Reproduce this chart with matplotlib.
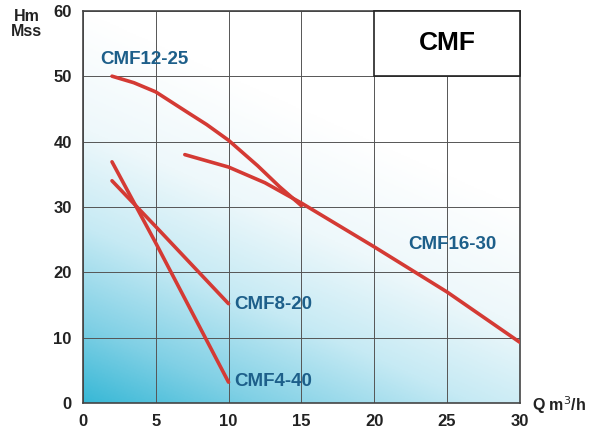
import numpy as np
import matplotlib.pyplot as plt
from matplotlib.colors import LinearSegmentedColormap
from matplotlib.patches import Rectangle

plt.rcParams['font.family'] = ['Liberation Sans', 'DejaVu Sans']

# pump curves, Q [m3/h] vs head [m]
q_12_25 = [2, 3.5, 5, 7.3, 8.5, 10, 12, 13.5, 15]
h_12_25 = [50, 49.0, 47.6, 44.3, 42.6, 40.2, 36.3, 33.1, 30.2]

q_16_30 = [7, 10, 12.5, 15, 20, 25, 30]
h_16_30 = [38, 36.1, 33.7, 30.6, 23.9, 17, 9.3]

q_8_20 = [2, 5, 10]
h_8_20 = [34, 27, 15.2]

q_4_40 = [2, 5, 10]
h_4_40 = [36.9, 24.5, 3.2]

curves = [(q_12_25, h_12_25), (q_16_30, h_16_30), (q_8_20, h_8_20), (q_4_40, h_4_40)]
labels = ["CMF12-25", "CMF16-30", "CMF8-20", "CMF4-40"]
label_pos = [(4.25, 52.6), (25.4, 24.3), (13.1, 15.0), (13.1, 3.3)]

fig = plt.figure(figsize=(5.92, 4.32), dpi=100)
ax = fig.add_axes([0.140, 0.067, 0.738, 0.908])

# background gradient, cyan bottom-left to white top
xx, yy = np.meshgrid(np.linspace(0, 1, 300), np.linspace(0, 1, 300))
t = np.clip(0.5 * xx + 1.0 * yy, 0, 1)
cmap = LinearSegmentedColormap.from_list(
    "bg", [(0, "#38b8d6"), (0.2, "#80d0e5"), (0.45, "#c6eaf4"), (0.7, "#eef8fb"), (1, "#ffffff")])
ax.imshow(t, extent=[0, 30, 0, 60], origin="lower", cmap=cmap, aspect="auto", zorder=0)

ax.set_xlim(0, 30)
ax.set_ylim(0, 60)
ax.set_xticks(np.arange(0, 31, 5))
ax.set_yticks(np.arange(0, 61, 10))
ax.grid(True, color="#555555", linewidth=0.7, zorder=1)
for s in ax.spines.values():
    s.set_color("#444444")
    s.set_linewidth(1.2)
ax.tick_params(length=0, labelsize=12, pad=8)
for lab in ax.get_xticklabels() + ax.get_yticklabels():
    lab.set_color("#222222")
    lab.set_fontweight("bold")

for (q, h), name, (lx, ly) in zip(curves, labels, label_pos):
    ax.plot(q, h, color="#d43a34", linewidth=2.6, solid_capstyle="round",
            solid_joinstyle="round", zorder=3)
    ax.text(lx, ly, name, color="#1d5f8a", fontsize=13.5, fontweight="bold",
            ha="center", va="center", zorder=4)

# title box
ax.add_patch(Rectangle((20, 50), 10, 10, facecolor="white", edgecolor="#222222",
                       linewidth=1.2, zorder=5, clip_on=False))
ax.text(25, 55, "CMF", fontsize=19, fontweight="bold", ha="center", va="center", zorder=6)

fig.text(0.045, 0.945, "Hm\nMss", fontsize=11.5, fontweight="bold", ha="center", va="center",
         linespacing=1.0, color="#222222")
fig.text(0.945, 0.062, "Q m$^3$/h", fontsize=11.5, fontweight="bold", ha="center", va="center",
         color="#222222")

plt.savefig("out.png")
